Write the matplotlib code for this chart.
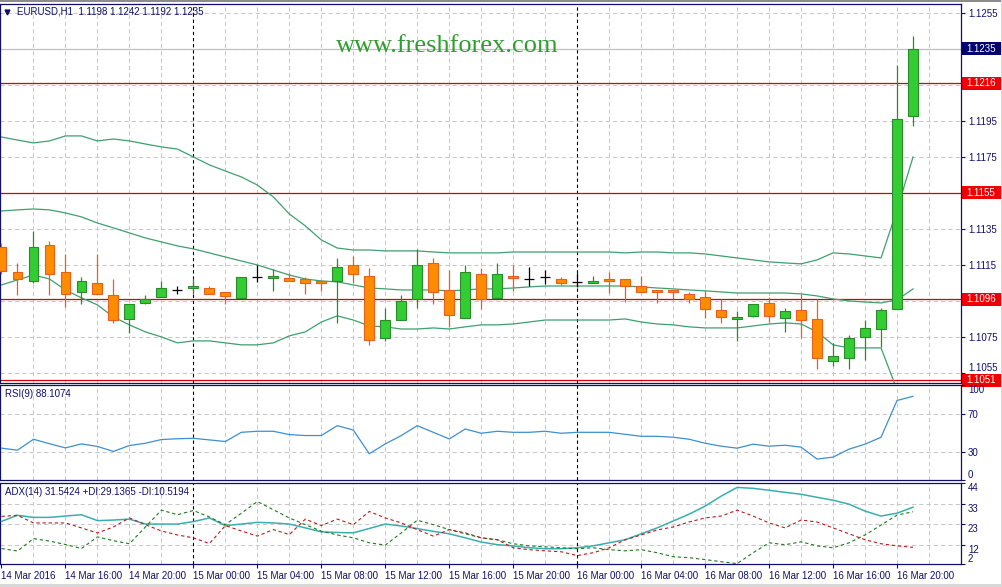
import numpy as np
import matplotlib
matplotlib.use('Agg')
import matplotlib.pyplot as plt
from matplotlib.patches import Rectangle
import matplotlib.transforms as mtrans

plt.rcParams['font.family'] = ['Liberation Sans', 'DejaVu Sans']

# ---------------- data ----------------
header_text = "EURUSD,H1  1.1198 1.1242 1.1192 1.1235"
watermark = "www.freshforex.com"

opens = [1.1125, 1.11111, 1.11061, 1.11261, 1.11111, 1.1100, 1.1105, 1.10983, 1.1085, 1.10939,
         1.10972, 1.11011, 1.11022, 1.11022, 1.1100, 1.10967, 1.11083, 1.11078, 1.11078, 1.11072,
         1.11061, 1.11061, 1.1115, 1.11089, 1.10744, 1.10844, 1.10961, 1.11161, 1.11011, 1.10856,
         1.1110, 1.10967, 1.11089, 1.11072, 1.11083, 1.11072, 1.11056, 1.1105, 1.11072, 1.11072,
         1.11033, 1.11011, 1.11011, 1.10989, 1.10972, 1.1090, 1.1085, 1.10867, 1.10939, 1.10856,
         1.1090, 1.1085, 1.10617, 1.10633, 1.1075, 1.10794, 1.10906, 1.1198]
highs = [1.11272, 1.11161, 1.11339, 1.11283, 1.11211, 1.11083, 1.11211, 1.11072, 1.10933, 1.10983,
         1.11061, 1.11033, 1.11072, 1.11033, 1.1100, 1.11083, 1.1115, 1.11128, 1.11106, 1.11083,
         1.11067, 1.11189, 1.1120, 1.11133, 1.10911, 1.10983, 1.11239, 1.11189, 1.11122, 1.1115,
         1.11133, 1.11161, 1.1115, 1.11139, 1.11122, 1.11083, 1.11106, 1.11089, 1.11111, 1.11072,
         1.11089, 1.11011, 1.11011, 1.1100, 1.11011, 1.10961, 1.10894, 1.10933, 1.10972, 1.10911,
         1.10989, 1.10961, 1.10717, 1.10761, 1.10844, 1.10911, 1.12261, 1.1242]
lows = [1.1110, 1.10983, 1.1105, 1.10983, 1.10917, 1.10933, 1.10989, 1.10828, 1.10772, 1.10933,
        1.10972, 1.10989, 1.10989, 1.10989, 1.10933, 1.10967, 1.11056, 1.11006, 1.11061, 1.10989,
        1.11006, 1.10828, 1.1105, 1.10706, 1.10728, 1.10844, 1.10911, 1.10933, 1.10806, 1.10856,
        1.10906, 1.10967, 1.11006, 1.11033, 1.11044, 1.11039, 1.11028, 1.1105, 1.10994, 1.10944,
        1.1100, 1.10939, 1.10961, 1.10939, 1.10856, 1.10828, 1.10728, 1.10861, 1.10833, 1.10778,
        1.10744, 1.10572, 1.10589, 1.10572, 1.10622, 1.10694, 1.10906, 1.1192]
closes = [1.11117, 1.11072, 1.1125, 1.1110, 1.10989, 1.11061, 1.10989, 1.10844, 1.10933, 1.10961,
          1.11022, 1.11011, 1.11033, 1.10989, 1.10978, 1.11083, 1.11083, 1.11089, 1.11061, 1.1105,
          1.1105, 1.11139, 1.1110, 1.10733, 1.10844, 1.1095, 1.1115, 1.1100, 1.10872, 1.11111,
          1.10961, 1.1110, 1.11078, 1.11072, 1.11083, 1.1105, 1.11056, 1.11061, 1.11061, 1.11033,
          1.1100, 1.1100, 1.1100, 1.10961, 1.10906, 1.10861, 1.10861, 1.10933, 1.10867, 1.10894,
          1.10844, 1.10633, 1.10644, 1.10744, 1.1080, 1.1090, 1.11961, 1.1235]

bb_upper = [1.11861, 1.11844, 1.11828, 1.11839, 1.11867, 1.11867, 1.11839, 1.1185, 1.11839, 1.11822,
            1.11806, 1.11794, 1.1175, 1.11706, 1.11672, 1.11639, 1.11594, 1.11528, 1.11433, 1.11367,
            1.11289, 1.11244, 1.11233, 1.11233, 1.11228, 1.11228, 1.11228, 1.11222, 1.11217, 1.11217,
            1.11217, 1.11217, 1.11222, 1.11222, 1.11222, 1.11222, 1.11222, 1.11222, 1.11222, 1.11217,
            1.11222, 1.11222, 1.11217, 1.11217, 1.11211, 1.1120, 1.11189, 1.11178, 1.11167, 1.11161,
            1.11156, 1.11178, 1.11217, 1.11211, 1.1120, 1.11189, 1.11456, 1.1175]
bb_middle = [1.1145, 1.11456, 1.11461, 1.11456, 1.11439, 1.11417, 1.11383, 1.11356, 1.11328, 1.1130,
             1.11278, 1.11256, 1.11239, 1.11217, 1.11194, 1.11172, 1.1115, 1.11122, 1.11094, 1.11072,
             1.11061, 1.11056, 1.11039, 1.11022, 1.11017, 1.11011, 1.11011, 1.11011, 1.11006, 1.11011,
             1.11017, 1.11017, 1.11022, 1.11028, 1.11033, 1.11033, 1.11033, 1.11033, 1.11033, 1.11033,
             1.11028, 1.11022, 1.11017, 1.11011, 1.11006, 1.1100, 1.10994, 1.10994, 1.10994, 1.10994,
             1.10989, 1.10978, 1.10961, 1.1095, 1.10944, 1.10939, 1.10956, 1.11017]
bb_lower = [1.11039, 1.11067, 1.11094, 1.11072, 1.11011, 1.10967, 1.10928, 1.10861, 1.10817, 1.10778,
            1.1075, 1.10717, 1.10728, 1.10728, 1.10717, 1.10706, 1.10706, 1.10717, 1.10756, 1.10778,
            1.10833, 1.10867, 1.10844, 1.10811, 1.10806, 1.10794, 1.10794, 1.1080, 1.10794, 1.10806,
            1.10817, 1.10817, 1.10822, 1.10833, 1.10844, 1.10844, 1.10844, 1.10844, 1.10844, 1.1085,
            1.10833, 1.10822, 1.10817, 1.10806, 1.1080, 1.1080, 1.1080, 1.10811, 1.10822, 1.10828,
            1.10822, 1.10778, 1.10706, 1.10689, 1.10689, 1.10689, 1.10456, 1.10283]

rsi = [33.5, 31.4, 42.9, 38.2, 33.8, 38.0, 35.3, 30.1, 36.3, 38.7,
       42.6, 43.4, 43.9, 42.2, 40.5, 50.2, 51.3, 51.3, 47.8, 46.8,
       46.8, 57.2, 52.6, 27.6, 38.0, 46.8, 57.2, 50.2, 43.2, 53.7,
       49.2, 51.3, 50.2, 50.2, 51.3, 49.2, 50.2, 50.2, 50.2, 48.1,
       46.0, 46.0, 45.0, 42.9, 38.7, 35.6, 33.5, 37.7, 35.6, 36.6,
       34.6, 22.0, 24.1, 32.5, 37.7, 45.0, 83.7, 88.1074]
adx = [24.1, 27.3, 26.2, 26.2, 26.9, 27.6, 24.5, 24.8, 25.3, 22.7,
       22.7, 22.7, 24.0, 25.9, 21.9, 22.7, 23.6, 23.3, 22.7, 20.7,
       18.6, 18.3, 18.1, 20.4, 22.7, 21.7, 20.3, 18.9, 17.6, 15.5,
       13.3, 11.9, 11.3, 10.3, 9.8, 9.8, 10.3, 11.3, 12.9, 14.5,
       17.6, 20.7, 24.3, 27.9, 32.1, 37.3, 41.9, 41.4, 40.4, 39.3,
       38.3, 36.7, 35.2, 33.1, 29.5, 26.9, 28.4, 31.5424]
plus_di = [9.9, 8.6, 15.1, 13.8, 12.0, 9.9, 16.0, 14.0, 12.4, 21.2,
           30.0, 27.6, 29.8, 26.4, 22.4, 28.4, 34.5, 30.2, 25.9, 22.4,
           19.0, 17.0, 15.5, 12.9, 11.7, 18.1, 24.7, 22.4, 19.8, 17.6,
           15.5, 14.5, 12.4, 11.3, 10.8, 10.3, 9.8, 10.3, 9.3, 8.7,
           9.3, 7.7, 5.6, 5.1, 4.1, 3.0, 2.0, 7.7, 12.9, 11.9,
           13.4, 11.3, 10.3, 12.9, 17.0, 22.2, 27.4, 29.1365]
minus_di = [26.7, 27.3, 23.3, 23.3, 23.3, 20.7, 18.0, 21.2, 25.9, 22.4,
            19.1, 17.0, 15.5, 12.5, 21.9, 19.1, 16.4, 19.8, 17.2, 25.3,
            21.9, 25.3, 22.4, 29.3, 25.9, 23.3, 19.8, 16.4, 19.8, 18.1,
            15.5, 14.5, 10.3, 9.3, 8.7, 8.2, 6.2, 7.7, 10.3, 14.5,
            17.0, 19.6, 21.2, 23.8, 25.9, 26.9, 30.0, 26.9, 23.3, 20.7,
            24.8, 23.8, 20.7, 17.6, 14.5, 12.4, 11.3, 10.5194]

level_lines = [1.1216, 1.1155, 1.1096, 1.1051]
bid_price = 1.1235
price_ticks = [1.1255, 1.1235, 1.1215, 1.1195, 1.1175, 1.1155, 1.1135,
               1.1115, 1.1095, 1.1075, 1.1055]
hidden_price_labels = [1.1235, 1.1215, 1.1155, 1.1095]   # covered by the level boxes
rsi_ticks = [100, 70, 30, 0]
rsi_levels = [70, 30]
adx_ticks = [44, 33, 23, 12, 2]
adx_levels = [33, 23, 12]
xtick_bars = [0, 4, 8, 12, 16, 20, 24, 28, 32, 36, 40, 44, 48, 52, 56]
xtick_labels = ["14 Mar 2016", "14 Mar 16:00", "14 Mar 20:00", "15 Mar 00:00",
                "15 Mar 04:00", "15 Mar 08:00", "15 Mar 12:00", "15 Mar 16:00",
                "15 Mar 20:00", "16 Mar 00:00", "16 Mar 04:00", "16 Mar 08:00",
                "16 Mar 12:00", "16 Mar 16:00", "16 Mar 20:00"]
day_separator_bars = [12, 36]
rsi_title = "RSI(9) 88.1074"
adx_title = "ADX(14) 31.5424 +DI:29.1365 -DI:10.5194"

# ---------------- style ----------------
W, H = 1003, 587
NAVY = '#10106a'
GRID = '#c8c8c8'
BULL_FILL, BULL_EDGE = '#33cc33', '#2b8a2b'
BEAR_FILL, BEAR_EDGE = '#ff8c00', '#e5601a'
BAND = '#3f9f6f'
FS = 7

fig = plt.figure(figsize=(W / 100, H / 100), dpi=100)
fig.patch.set_facecolor('white')


def rect(x0, y0, x1, y1):
    return [x0 / W, 1 - y1 / H, (x1 - x0) / W, (y1 - y0) / H]


ax = fig.add_axes(rect(0.5, 4, 961, 383))
ax_rsi = fig.add_axes(rect(0.5, 385, 961, 480))
ax_adx = fig.add_axes(rect(0.5, 483, 961, 564))

n = len(closes)
xs = np.arange(n)
xlim = (-0.0625, 60)
ytop, ybot = 1.1260, 1.10494

for a in (ax, ax_rsi, ax_adx):
    a.set_xlim(*xlim)
    for s in a.spines.values():
        s.set_color(NAVY)
        s.set_linewidth(0.9)
    a.yaxis.tick_right()
    a.tick_params(axis='y', colors=NAVY, labelsize=FS, length=3, width=0.8, pad=2, labelcolor=NAVY)
    a.tick_params(axis='x', colors=NAVY, labelsize=FS, length=3, width=0.8, pad=2, labelcolor=NAVY)
    for gx in range(2, 60, 2):
        if gx in day_separator_bars:
            continue
        a.axvline(gx, color=GRID, lw=0.75, dashes=(4, 3), zorder=0)
    for d in day_separator_bars:
        a.axvline(d, color='black', lw=0.8, dashes=(3, 2.5), zorder=1)

for a in (ax, ax_rsi):
    a.set_xticks([])

# ---- main price panel ----
ax.set_ylim(ybot, ytop)
ax.set_yticks(price_ticks)
ax.set_yticklabels(["" if any(abs(p - h) < 1e-9 for h in hidden_price_labels) else f"{p:.4f}"
                    for p in price_ticks])
for p, lab in zip(price_ticks, ax.get_yticklabels()):
    if abs(p - 1.1055) < 1e-9:
        lab.set_va('bottom')
for p in price_ticks:
    ax.axhline(p, color=GRID, lw=0.75, dashes=(4, 3), zorder=0)
ax.axhline(bid_price, color='#c0c0c0', lw=0.9, zorder=1)
for lv in level_lines:
    ax.axhline(lv, color='#d80000', lw=0.9, zorder=1)

ax.plot(xs, bb_upper, color=BAND, lw=0.9, zorder=2)
ax.plot(xs, bb_middle, color=BAND, lw=0.9, zorder=2)
ax.plot(xs, bb_lower, color=BAND, lw=0.9, zorder=2)

bw = 0.62
for i in range(n):
    o, h, l, c = opens[i], highs[i], lows[i], closes[i]
    if abs(c - o) < 1e-9:
        ax.vlines(i, l, h, color='black', lw=0.9, zorder=4)
        ax.hlines(o, i - bw / 2, i + bw / 2, color='black', lw=0.9, zorder=4)
        continue
    bull = c > o
    fill = BULL_FILL if bull else BEAR_FILL
    edge = BULL_EDGE if bull else BEAR_EDGE
    ax.vlines(i, l, h, color=edge, lw=0.9, zorder=3)
    ax.add_patch(Rectangle((i - bw / 2, min(o, c)), bw, abs(c - o),
                           facecolor=fill, edgecolor=edge, lw=0.8, zorder=4))

px_price = (ytop - ybot) / (383 - 4)
tr = mtrans.blended_transform_factory(ax.transAxes, ax.transData)


def right_box(p, fc):
    ax.add_patch(Rectangle((1 + 1 / 961, p - 6.5 * px_price), 39 / 961, 13 * px_price,
                           transform=tr, facecolor=fc, edgecolor='none',
                           clip_on=False, zorder=8))
    ax.text(1 + 5 / 961, p, f"{p:.4f}", transform=tr, color='white', fontsize=FS,
            va='center', ha='left', clip_on=False, zorder=9)


for lv in level_lines:
    right_box(lv, '#f00000')
right_box(bid_price, '#000070')

ax.text(17 / 961, 1 - 8 / 379, header_text, transform=ax.transAxes, color=NAVY,
        fontsize=FS, va='center', ha='left')
ax.plot([7 / 961], [1 - 8 / 379], marker='v', color=NAVY, markersize=3.5,
        transform=ax.transAxes, clip_on=False)
fig.text(336 / W, 1 - 46 / H, watermark, family='Liberation Serif', fontsize=19,
         color='#2f9e2f', va='center', ha='left')

# ---- RSI panel ----
ax_rsi.set_ylim(0, 100)
ax_rsi.set_yticks(rsi_ticks)
ax_rsi.set_yticklabels([str(t) for t in rsi_ticks])
for t, lab in zip(rsi_ticks, ax_rsi.get_yticklabels()):
    if t == 100:
        lab.set_va('top')
    elif t == 0:
        lab.set_va('bottom')
for lv in rsi_levels:
    ax_rsi.axhline(lv, color=GRID, lw=0.75, dashes=(4, 3), zorder=0)
ax_rsi.plot(xs, rsi, color='#3d8fd0', lw=0.9, zorder=3)
ax_rsi.text(5 / 961, 1 - 9 / 95, rsi_title, transform=ax_rsi.transAxes, color=NAVY,
            fontsize=FS, va='center', ha='left')

# ---- ADX panel ----
ax_adx.set_ylim(1.8, 44.2)
ax_adx.set_yticks(adx_ticks)
ax_adx.set_yticklabels([str(t) for t in adx_ticks])
for t, lab in zip(adx_ticks, ax_adx.get_yticklabels()):
    lab.set_va('bottom' if t == 2 else 'top')
for lv in adx_levels:
    ax_adx.axhline(lv, color=GRID, lw=0.75, dashes=(4, 3), zorder=0)
ax_adx.plot(xs, adx, color='#3aaeae', lw=1.1, zorder=3)
ax_adx.plot(xs, plus_di, color='#1e7a1e', lw=0.8, dashes=(3, 2.5), zorder=3)
ax_adx.plot(xs, minus_di, color='#b81c1c', lw=0.8, dashes=(3, 2.5), zorder=3)
ax_adx.text(5 / 961, 1 - 9 / 81, adx_title, transform=ax_adx.transAxes, color=NAVY,
            fontsize=FS, va='center', ha='left')
ax_adx.set_xticks(xtick_bars)
ax_adx.set_xticklabels(xtick_labels, ha='left')

# window frame
fig.add_artist(Rectangle((0, 1 - 1.5 / H), 1, 1.5 / H, transform=fig.transFigure,
                         facecolor='#8c8c8c', edgecolor='none'))
fig.add_artist(Rectangle((0, 0), 1, 3 / H, transform=fig.transFigure,
                         facecolor='#d8d8d8', edgecolor='none'))
fig.add_artist(Rectangle((1 - 2 / W, 0), 2 / W, 1, transform=fig.transFigure,
                         facecolor='#d8d8d8', edgecolor='none'))

fig.savefig('out.png', dpi=100, facecolor='white')
